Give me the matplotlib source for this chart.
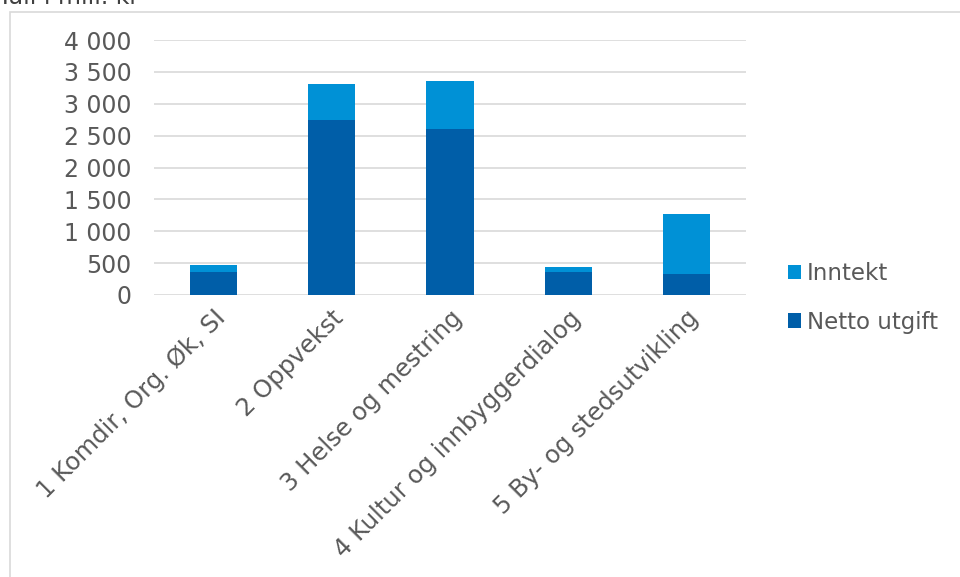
import matplotlib.pyplot as plt
from matplotlib.patches import Rectangle
import numpy as np

categories = [
    "1 Komdir, Org. Øk, SI",
    "2 Oppvekst",
    "3 Helse og mestring",
    "4 Kultur og innbyggerdialog",
    "5 By- og stedsutvikling",
]
netto_utgift = [360, 2750, 2605, 355, 330]
inntekt = [110, 555, 750, 90, 940]
yticks = [0, 500, 1000, 1500, 2000, 2500, 3000, 3500, 4000]
ytick_labels = ["0", "500", "1 000", "1 500", "2 000", "2 500", "3 000", "3 500", "4 000"]

col_netto = "#005EA8"
col_inntekt = "#0091D6"
txt = "#595959"
grid = "#D9D9D9"

plt.rcParams['font.family'] = ['DejaVu Sans']

fig = plt.figure(figsize=(9.6, 5.77), dpi=100)
W, H = 960, 577

# chart border
fig.patches.append(Rectangle((10 / W, -0.05), 1.1, 1 - 12 / H + 0.05, transform=fig.transFigure,
                             fill=False, edgecolor=grid, linewidth=1.2))
# title sits mostly above the visible area, as in the source image
fig.text(-0.002, 1 - 4 / H, "Tall i mill. kr", fontsize=17, color="#404040", va='baseline')

ax = fig.add_axes([154 / W, 1 - 295 / H, (746 - 154) / W, (295 - 40) / H])
x = np.arange(len(categories))
ax.bar(x, netto_utgift, width=0.4, color=col_netto, label="Netto utgift", zorder=3)
ax.bar(x, inntekt, width=0.4, bottom=netto_utgift, color=col_inntekt, label="Inntekt", zorder=3)

ax.set_xlim(-0.5, len(categories) - 0.5)
ax.set_ylim(0, 4000)
ax.set_yticks(yticks)
ax.set_yticklabels(ytick_labels, fontsize=17, color=txt)
ax.set_xticks(x)
ax.set_xticklabels(categories, rotation=45, ha='right', rotation_mode='anchor',
                   fontsize=17.5, color=txt)
ax.tick_params(axis='both', length=0)
ax.tick_params(axis='y', pad=16)
ax.tick_params(axis='x', pad=8)
ax.grid(True, axis='y', color=grid, linewidth=1.2, zorder=0)
for s in ax.spines.values():
    s.set_visible(False)

h, l = ax.get_legend_handles_labels()
leg = fig.legend(h[::-1], l[::-1], loc='center left', bbox_to_anchor=(788 / W, 1 - 298 / H),
                 frameon=False, fontsize=16.5, handlelength=0.57, handleheight=0.57,
                 handletextpad=0.26, labelspacing=1.1, borderpad=0, borderaxespad=0)
for t in leg.get_texts():
    t.set_color(txt)

plt.savefig("out.png", dpi=100)
